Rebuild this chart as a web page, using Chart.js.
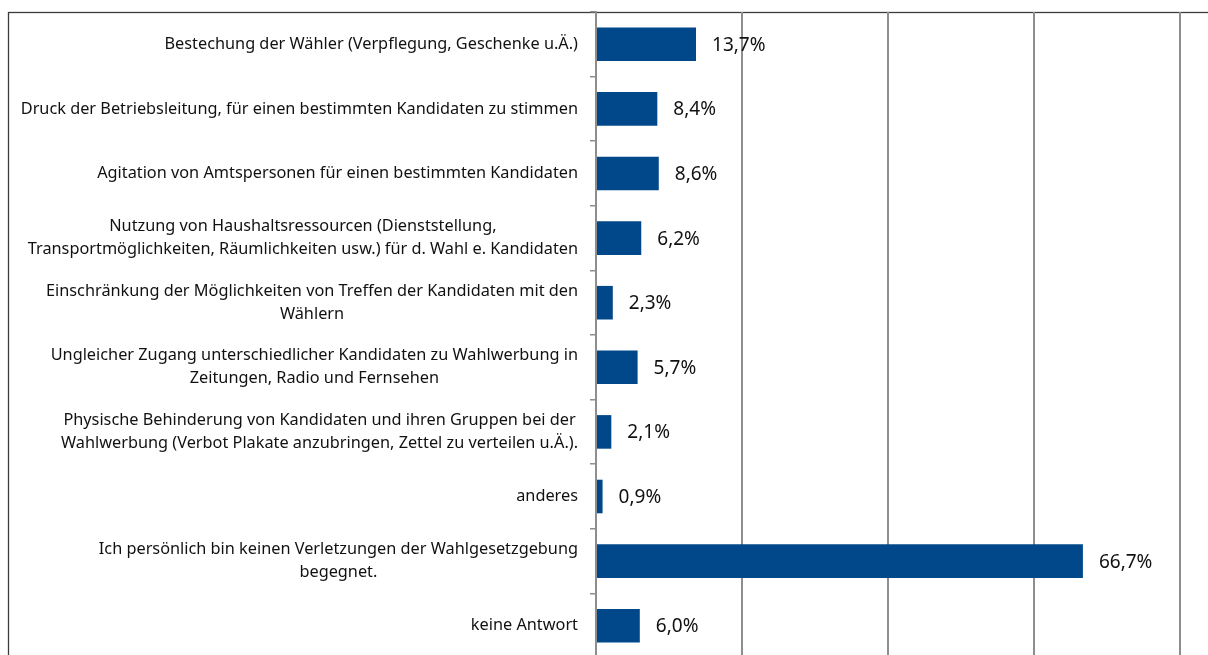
<!DOCTYPE html>
<html lang="de">
<head>
<meta charset="utf-8">
<title>Verletzungen der Wahlgesetzgebung</title>
<script src="https://cdn.jsdelivr.net/npm/chart.js@4.4.1/dist/chart.umd.min.js"></script>
<style>
  html, body { margin: 0; padding: 0; background: #fff; overflow: hidden; }
  #wrap { position: absolute; left: 0; top: 0; width: 1340px; height: 660px; }
</style>
</head>
<body>
<div id="wrap"><canvas id="myChart"></canvas></div>
<script>
    "use strict";

    // Kategorien (mehrzeilige Beschriftungen als Arrays)
    var categories = [
        ["Bestechung der Wähler (Verpflegung, Geschenke u.Ä.)"],
        ["Druck der Betriebsleitung, für einen bestimmten Kandidaten zu stimmen"],
        ["Agitation von Amtspersonen für einen bestimmten Kandidaten"],
        ["Nutzung von Haushaltsressourcen (Dienststellung,", "Transportmöglichkeiten, Räumlichkeiten usw.) für d. Wahl e. Kandidaten"],
        ["Einschränkung der Möglichkeiten von Treffen der Kandidaten mit den", "Wählern"],
        ["Ungleicher Zugang unterschiedlicher Kandidaten zu Wahlwerbung in", "Zeitungen, Radio und Fernsehen"],
        ["Physische Behinderung von Kandidaten und ihren Gruppen bei der", "Wahlwerbung (Verbot Plakate anzubringen, Zettel zu verteilen u.Ä.)."],
        ["anderes"],
        ["Ich persönlich bin keinen Verletzungen der Wahlgesetzgebung", "begegnet."],
        ["keine Antwort"]
    ];

    // Anteile in Prozent
    var percentValues = [13.7, 8.4, 8.6, 6.2, 2.3, 5.7, 2.1, 0.9, 66.7, 6.0];

    var xTickValues = [0, 20, 40, 60, 80, 100];

    var labelFont = "16.3px 'Noto Sans', sans-serif";
    var valueFont = "19px 'Noto Sans', sans-serif";

    // Rahmen um das gesamte Diagramm
    var frameBorder = {
        id: 'frameBorder',
        beforeDraw: function (chart) {
            var ctx = chart.ctx;
            ctx.save();
            ctx.strokeStyle = '#3c3c3c';
            ctx.lineWidth = 1.3;
            ctx.strokeRect(8.5, 12.5, chart.width + 20, chart.height + 20);
            ctx.restore();
        }
    };

    // Kategorienbeschriftung: Block rechtsbündig, Zeilen zentriert
    var categoryLabels = {
        id: 'categoryLabels',
        afterDraw: function (chart) {
            var ctx = chart.ctx;
            var yScale = chart.scales.y;
            var rightEdge = chart.chartArea.left - 18;
            var lineHeight = 23;
            ctx.save();
            ctx.font = labelFont;
            ctx.fillStyle = '#111';
            ctx.textAlign = 'center';
            ctx.textBaseline = 'middle';
            categories.forEach(function (lines, i) {
                var y = yScale.getPixelForTick(i);
                var widest = 0;
                lines.forEach(function (line) {
                    widest = Math.max(widest, ctx.measureText(line).width);
                });
                var cx = rightEdge - widest / 2;
                var y0 = y - (lines.length - 1) * lineHeight / 2;
                lines.forEach(function (line, k) {
                    ctx.fillText(line, cx, y0 + k * lineHeight);
                });
            });
            ctx.restore();
        }
    };

    // Werte rechts neben den Balken
    var valueLabels = {
        id: 'valueLabels',
        afterDatasetsDraw: function (chart) {
            var ctx = chart.ctx;
            var meta = chart.getDatasetMeta(0);
            ctx.save();
            ctx.font = valueFont;
            ctx.fillStyle = '#111';
            ctx.textAlign = 'left';
            ctx.textBaseline = 'middle';
            meta.data.forEach(function (bar, i) {
                var text = percentValues[i].toFixed(1).replace('.', ',') + '%';
                ctx.fillText(text, bar.x + 16, bar.y + 1);
            });
            ctx.restore();
        }
    };

    var ctx = document.getElementById('myChart').getContext('2d');
    var chart = new Chart(ctx, {
        type: 'bar',
        data: {
            labels: categories,
            datasets: [{
                label: 'Anteil',
                backgroundColor: '#004889',
                borderWidth: 0,
                barPercentage: 0.52,
                categoryPercentage: 1,
                data: percentValues
            }]
        },
        options: {
            indexAxis: 'y',
            responsive: true,
            maintainAspectRatio: false,
            animation: false,
            layout: {
                padding: { left: 0, top: 12, right: 14, bottom: 2 }
            },
            scales: {
                x: {
                    min: 0,
                    max: 100,
                    afterBuildTicks: function (scale) {
                        scale.ticks = xTickValues.map(function (v) { return { value: v }; });
                    },
                    ticks: { display: false },
                    grid: {
                        color: '#8e8e8e',
                        lineWidth: 2,
                        drawTicks: false
                    },
                    border: { display: false },
                    afterFit: function (scale) { scale.height = 0; }
                },
                y: {
                    ticks: { display: false },
                    grid: {
                        offset: true,
                        drawOnChartArea: false,
                        drawTicks: true,
                        tickLength: 6,
                        color: '#8e8e8e',
                        lineWidth: 1.5
                    },
                    border: { display: true, color: '#8e8e8e', width: 2 },
                    afterFit: function (scale) { scale.width = 596; }
                }
            },
            plugins: {
                legend: { display: false },
                tooltip: { enabled: false }
            }
        },
        plugins: [frameBorder, categoryLabels, valueLabels]
    });
</script>
</body>
</html>
